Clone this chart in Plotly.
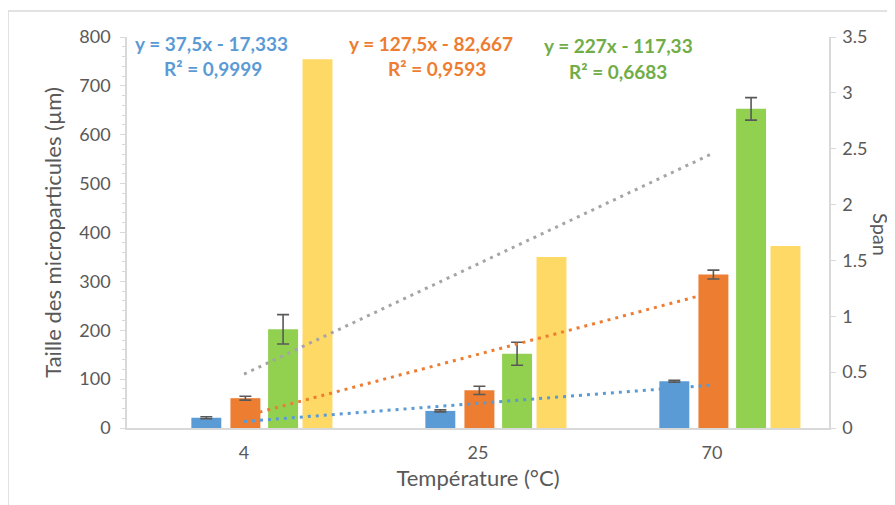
import numpy as np
import plotly.graph_objects as go

categories = ["4", "25", "70"]
cat_pos = [1, 2, 3]

d_blue = [21, 35, 95.5]
d_blue_err = [2, 2, 2]
d_orange = [61, 77, 314]
d_orange_err = [4, 8.5, 9]
d_green = [202, 152, 653]
d_green_err = [30, 23.5, 23]
span = [3.30, 1.53, 1.63]

eq_blue = ["y = 37,5x - 17,333", "R² = 0,9999"]
eq_orange = ["y = 127,5x - 82,667", "R² = 0,9593"]
eq_green = ["y = 227x - 117,33", "R² = 0,6683"]

C_BLUE = "#5B9BD5"
C_ORANGE = "#ED7D31"
C_GREEN = "#92D050"
C_YELLOW = "#FFD966"
C_GRAY = "#A5A5A5"
C_TEXT = "#595959"
FONT = "Lato"

# page offset of the figure (browser body margin)
OX, OY = 8, 8
PL, PR, PT, PB = 127, 829, 37, 428  # plot area in page pixels
W, H = 895 - OX, 505 - OY

offsets = {"blue": -0.161, "orange": 0.006, "green": 0.167, "yellow": 0.314}
bw = 0.128

fig = go.Figure()

def bar(vals, off, color, err=None, yaxis="y"):
    kw = {}
    if err is not None:
        kw["error_y"] = dict(type="data", array=err, visible=True, color=C_TEXT,
                             thickness=1.6, width=6)
    fig.add_trace(go.Bar(x=[p + off for p in cat_pos], y=vals, width=bw,
                         marker=dict(color=color, line=dict(width=0)),
                         yaxis=yaxis, showlegend=False, **kw))

bar(d_blue, offsets["blue"], C_BLUE, d_blue_err)
bar(d_orange, offsets["orange"], C_ORANGE, d_orange_err)
bar(d_green, offsets["green"], C_GREEN, d_green_err)
bar(span, offsets["yellow"], C_YELLOW, None, "y2")

# linear trendlines (least squares over category index)
for vals, col in [(d_blue, C_BLUE), (d_orange, C_ORANGE), (d_green, C_GRAY)]:
    m, b = np.polyfit(cat_pos, vals, 1)
    xs = [cat_pos[0], cat_pos[-1]]
    fig.add_trace(go.Scatter(x=xs, y=[m * x + b for x in xs], mode="lines",
                             line=dict(color=col, width=3, dash="3px,5px"),
                             yaxis="y3", showlegend=False, hoverinfo="skip"))

axis_line = "#D9D9D9"
pw, ph = PR - PL, PB - PT

def px(xp):
    return (xp - PL) / pw

def py(yp):
    return (PB - yp) / ph

fig.update_layout(
    width=W, height=H,
    margin=dict(l=PL - OX, r=W - (PR - OX), t=PT - OY, b=H - (PB - OY), autoexpand=False),
    paper_bgcolor="white", plot_bgcolor="white",
    font=dict(family=FONT, color=C_TEXT, size=18),
    barmode="overlay",
    xaxis=dict(range=[0.5, 3.5], tickvals=cat_pos, ticktext=categories,
               showgrid=False, zeroline=False, showline=True, linecolor=axis_line,
               linewidth=2, ticks="", tickfont=dict(size=18), automargin=False,
               ticklabelstandoff=7,
               title=dict(text="Température (°C)", font=dict(size=22), standoff=9)),
    yaxis=dict(range=[0, 800], dtick=100, showgrid=False, zeroline=False,
               showline=True, linecolor=axis_line, linewidth=1.5,
               ticks="outside", ticklen=5, tickcolor=axis_line, automargin=False,
               minor=dict(dtick=20, ticks="outside", ticklen=3, tickcolor=axis_line),
               tickfont=dict(size=18), ticklabelstandoff=6,
               title=dict(text="Taille des microparticules (µm)", font=dict(size=22), standoff=12)),
    yaxis2=dict(range=[0, 3.5], dtick=0.5, overlaying="y", side="right",
                showgrid=False, zeroline=False, showline=True, linecolor=axis_line,
                linewidth=1.5, ticks="outside", ticklen=5, tickcolor=axis_line,
                tickfont=dict(size=18), automargin=False, ticklabelstandoff=3),
    yaxis3=dict(range=[0, 800], overlaying="y", visible=False),
)

fig.add_annotation(text="Span", xref="paper", yref="paper", x=px(881), y=py(234),
                   textangle=90, showarrow=False, font=dict(size=20, color=C_TEXT),
                   xanchor="center", yanchor="middle")

def eq(lines, xpx, ypx, color):
    for i, t in enumerate(lines):
        fig.add_annotation(text="<b>%s</b>" % t, xref="paper", yref="paper",
                           x=px(xpx[i]), y=py(ypx[i]),
                           showarrow=False, font=dict(size=19, color=color),
                           xanchor="center", yanchor="middle")

eq(eq_blue, [211, 213], [43, 68], C_BLUE)
eq(eq_orange, [431, 437], [43, 68], C_ORANGE)
eq(eq_green, [618, 618], [46, 72], "#70AD47")

fig.add_shape(type="rect", xref="paper", yref="paper",
              x0=px(8), x1=px(930), y0=py(560), y1=py(11),
              line=dict(color="#D9D9D9", width=1.5), layer="below")

fig.write_html("out.html")
